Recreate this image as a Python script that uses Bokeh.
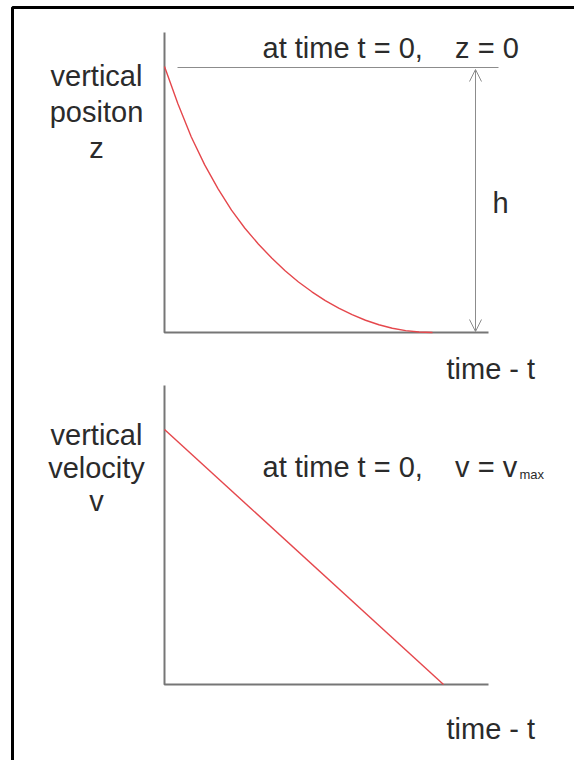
from bokeh.plotting import figure
from bokeh.models import Range1d, Label, Arrow, OpenHead
from bokeh.embed import file_html
from bokeh.resources import INLINE

# ---------------- data (normalised units) ----------------
# top panel: vertical position z against time t (z = 0 at t = 0, z = -h at the end)
t_pos = [0.00, 0.05, 0.10, 0.15, 0.20, 0.25, 0.30, 0.35, 0.40, 0.45, 0.50,
         0.55, 0.60, 0.65, 0.70, 0.75, 0.80, 0.85, 0.90, 0.95, 1.00]
z_pos = [0.000, -0.140, -0.265, -0.370, -0.460, -0.540, -0.608, -0.667, -0.720, -0.768, -0.810,
         -0.847, -0.880, -0.908, -0.933, -0.954, -0.971, -0.984, -0.993, -0.998, -1.000]
# bottom panel: vertical velocity v against time t
t_vel = [0.0, 1.0]
v_vel = [1.0, 0.0]

# texts
NB = "\u00a0"
pos_label = ["vertical", "positon", "z"]
vel_label = ["vertical", "velocity", "v"]
top_note = "at time t = 0," + NB * 4 + "z = 0"
bot_note = "at time t = 0," + NB * 4 + "v = v"
bot_sub = "max"
x_label = "time - t"
h_label = "h"

# ---------------- layout (page pixels) ----------------
W, H, M = 574, 760, 0
FONT = "Liberation Sans"
FS = 29
TXT = "#2b2b2b"
AX = "#767676"
GREY = "#8c8c8c"
RED = "#e5474c"


def fx(px):
    return px - M


def fy(py):
    return py - M


def lin_range(pa, va, pb, vb, lo, hi):
    k = (vb - va) / (pb - pa)
    return Range1d(start=va + k * (lo - pa), end=va + k * (hi - pa))


p = figure(width=W, height=H, output_backend="svg", toolbar_location=None,
           x_range=Range1d(0, W), y_range=Range1d(H, 0), min_border=0)
p.axis.visible = False
p.grid.visible = False
p.outline_line_color = None
p.background_fill_color = "white"

# data ranges anchored to the panels
p.extra_x_ranges = {
    "tt": lin_range(164, 0.0, 432, 1.0, M, M + W),
    "tb": lin_range(164, 0.0, 443, 1.0, M, M + W),
}
p.extra_y_ranges = {
    "z": lin_range(66, 0.0, 332, -1.0, M + H, M),
    "v": lin_range(429, 1.0, 684, 0.0, M + H, M),
}

# page border
p.line([fx(12), fx(12), W], [H, fy(7), fy(7)], line_color="black", line_width=3)

# axes (drawn as plain lines)
for top, base in [(32, 332), (385, 684)]:
    p.line([fx(164), fx(164), fx(488)], [fy(top), fy(base), fy(base)],
           line_color=AX, line_width=2)

# reference line at z = 0 and h arrow
p.line([fx(177), fx(498)], [fy(67), fy(67)], line_color=GREY, line_width=1)
p.add_layout(Arrow(x_start=fx(475), y_start=fy(69), x_end=fx(475), y_end=fy(331),
                   start=OpenHead(size=12, line_color=GREY, line_width=1),
                   end=OpenHead(size=12, line_color=GREY, line_width=1),
                   line_color=GREY, line_width=1))

# data curves
p.line(t_pos, z_pos, x_range_name="tt", y_range_name="z", line_color=RED,
       line_width=1.4, line_join="round")
p.line(t_vel, v_vel, x_range_name="tb", y_range_name="v", line_color=RED, line_width=1.4)


def lab(text, x, y, size=FS, align="left"):
    p.add_layout(Label(x=fx(x), y=fy(y), text=text, text_font=FONT,
                       text_font_size=f"{size}px", text_color=TXT,
                       text_align=align, text_baseline="alphabetic"))


for i, s in enumerate(pos_label):
    lab(s, 96, 75 + 36 * i, align="center")
for i, s in enumerate(vel_label):
    lab(s, 96, 434 + 33 * i, align="center")

lab(top_note, 262, 47)
lab(bot_note, 262, 466)
lab(bot_sub, 519, 474, size=13)
lab(h_label, 500, 202, align="center")
lab(x_label, 446, 368)
lab(x_label, 446, 728)

open("out.html", "w").write(file_html(p, INLINE))
